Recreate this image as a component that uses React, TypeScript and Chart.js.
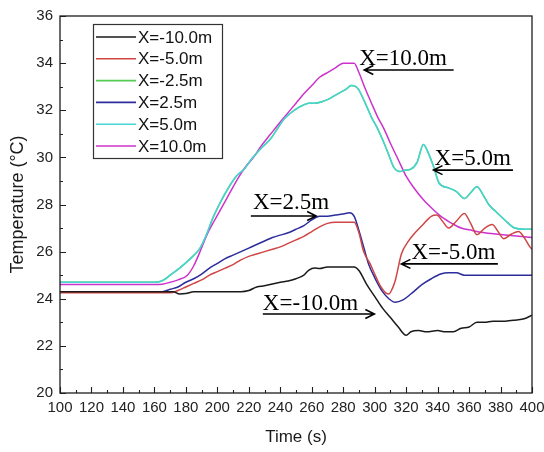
import React, { useEffect, useRef } from "react";
import { Chart, registerables } from "chart.js";

Chart.register(...registerables);

// ---- data (time in s, temperature in °C) ----
const xTicksMin = 100;
const xTicksMax = 400;
const xTickStep = 20;
const yTicksMin = 20;
const yTicksMax = 36;
const yTickStep = 2;

const seriesLabels = ["X=-10.0m", "X=-5.0m", "X=-2.5m", "X=2.5m", "X=5.0m", "X=10.0m"];
const seriesColors = ["#1a1a1a", "#d04545", "#55cc55", "#2c2c9c", "#46d4d4", "#cc33cc"];

const tBlack = [100,165,172,176,180,185,200,215,220,225,230,240,245,250,255,258,262,265,270,287,290,295,300,305,310,315,320,323,328,333,340,345,350,355,360,365,370,375,383,390,395,400];
const vBlack = [24.3,24.3,24.3,24.2,24.22,24.3,24.3,24.3,24.35,24.5,24.55,24.7,24.75,24.85,25.0,25.2,25.3,25.28,25.35,25.35,25.2,24.6,24.1,23.6,23.2,22.8,22.45,22.6,22.65,22.6,22.65,22.6,22.6,22.75,22.8,23.0,23.0,23.05,23.05,23.1,23.15,23.3];

const tRed = [100,170,175,180,185,190,195,200,205,210,215,220,225,230,235,240,245,250,255,260,265,270,275,287,290,293,297,300,304,307,309,311,313,317,321,325,330,336,339.5,343,347,352,357,361,365,370,374.7,378,382,387,391.5,395,398.7,400];
const vRed = [24.25,24.25,24.35,24.5,24.65,24.8,25.0,25.15,25.3,25.45,25.65,25.8,25.9,26.0,26.1,26.2,26.35,26.5,26.65,26.85,27.05,27.2,27.25,27.25,26.8,26.0,25.5,25.05,24.5,24.25,24.2,24.4,24.75,25.9,26.4,26.75,27.1,27.5,27.55,27.3,27.0,27.3,27.62,27.2,26.72,27.0,27.15,26.9,26.55,26.75,26.85,26.6,26.2,26.1];

// X=-2.5m trace runs underneath the X=5.0m trace in the reference
const tGreen = [100,160,163,166,170,176,182,189,193,197,202,207,212,217,222,228,234,238,242,246,250,254,258,262,266,270,274,278,282,285,288,290,294,298,302,306,309,312,316,319,323,327,331,334,337.5,341,347,352,357,361,365,369,372.5,377,381,385,389,395,400];
const vGreen = [24.7,24.7,24.72,24.8,25.0,25.3,25.65,26.15,26.7,27.4,28.1,28.7,29.2,29.5,29.95,30.4,30.8,31.2,31.6,31.85,32.05,32.2,32.3,32.3,32.35,32.45,32.6,32.75,32.9,33.05,33.0,32.85,32.3,31.7,31.2,30.6,30.1,29.6,29.4,29.45,29.5,29.8,30.55,30.2,29.6,28.9,28.7,28.55,28.25,28.5,28.75,28.4,28.0,27.7,27.45,27.2,27.0,26.95,26.95];

const tBlue = [100,165,170,175,180,185,190,195,200,205,210,215,220,225,230,235,240,245,250,255,260,265,270,275,280,284,287,290,293,296,300,305,309,313,318,323,330,336,342,347,352,357,370,400];
const vBlue = [24.3,24.3,24.4,24.5,24.7,24.85,25.05,25.3,25.5,25.7,25.85,26.0,26.15,26.3,26.45,26.6,26.7,26.8,26.95,27.1,27.35,27.5,27.5,27.55,27.6,27.65,27.5,26.9,26.2,25.5,24.9,24.3,24.0,23.85,23.95,24.2,24.6,24.85,25.05,25.1,25.1,25.0,25.0,25.0];

const tCyan = [100,160,163,166,170,176,182,189,193,197,202,207,212,217,222,228,234,238,242,246,250,254,258,262,266,270,274,278,282,285,288,290,294,298,302,306,309,312,316,319,323,327,331,334,337.5,341,347,352,357,361,365,369,372.5,377,381,385,389,395,400];
const vCyan = [24.7,24.7,24.72,24.8,25.0,25.3,25.65,26.15,26.7,27.4,28.1,28.7,29.2,29.5,29.95,30.4,30.8,31.2,31.6,31.85,32.05,32.2,32.3,32.3,32.35,32.45,32.6,32.75,32.9,33.05,33.0,32.85,32.3,31.7,31.2,30.6,30.1,29.6,29.4,29.45,29.5,29.8,30.55,30.2,29.6,28.9,28.7,28.55,28.25,28.5,28.75,28.4,28.0,27.7,27.45,27.2,27.0,26.95,26.95];

const tMagenta = [100,160,165,170,175,181,185,189,194,198,203,208,213,218,223,228,234,240,245,250,255,260,265,270,275,280,287,290,293.5,298,302,306,310,315,320,325,331,337,343,349,355,362,370,385,400];
const vMagenta = [24.6,24.6,24.62,24.7,24.8,25.0,25.4,26.0,26.8,27.3,27.9,28.5,29.1,29.6,30.0,30.5,31.0,31.5,31.9,32.3,32.7,33.05,33.4,33.6,33.8,34.0,34.0,33.6,33.0,32.3,31.7,31.2,30.6,29.9,29.2,28.7,28.2,27.8,27.45,27.2,27.0,26.9,26.8,26.7,26.6];

const seriesTimes = [tBlack, tRed, tGreen, tBlue, tCyan, tMagenta];
const seriesValues = [vBlack, vRed, vGreen, vBlue, vCyan, vMagenta];
const seriesOrder = [0, 0, 1, 0, 0, 0];

// annotation labels (text anchor in data units; arrow along underline)
const annoLabels = ["X=10.0m", "X=5.0m", "X=2.5m", "X=-5.0m", "X=-10.0m"];
const annoTextX = [290.2, 338.1, 222.6, 323.4, 228.9];
const annoTextY = [33.92, 29.68, 27.81, 25.69, 23.52];
const annoArrowY = [33.71, 29.46, 27.51, 25.48, 23.35];
const annoArrowFrom = [350.2, 387.9, 221.3, 378.3, 228.9];
const annoArrowTo = [293.4, 337.4, 262.8, 317.0, 299.8];

const xTitle = "Time (s)";
const yTitle = "Temperature (°C)";

const overlayPlugin = {
  id: "overlay",
  afterDraw(chart: any) {
    const { ctx, chartArea, scales } = chart;
    const { left, right, top, bottom } = chartArea;
    const xs = scales.x;
    const ys = scales.y;
    ctx.save();

    // frame
    ctx.strokeStyle = "#1e1e1e";
    ctx.lineWidth = 1.3;
    ctx.strokeRect(left, top, right - left, bottom - top);

    // inward ticks (major + minor)
    ctx.lineWidth = 1.1;
    ctx.beginPath();
    for (let v = xTicksMin; v <= xTicksMax; v += xTickStep / 2) {
      const px = Math.round(xs.getPixelForValue(v)) + 0.5;
      const len = (v - xTicksMin) % xTickStep === 0 ? 6 : 3;
      ctx.moveTo(px, bottom);
      ctx.lineTo(px, bottom - len);
    }
    for (let v = yTicksMin; v <= yTicksMax; v += yTickStep / 2) {
      const py = Math.round(ys.getPixelForValue(v)) + 0.5;
      const len = (v - yTicksMin) % yTickStep === 0 ? 6 : 3;
      ctx.moveTo(left, py);
      ctx.lineTo(left + len, py);
    }
    ctx.stroke();

    // legend box
    const lx = left + 33;
    const ly = top + 8;
    const lw = 129;
    const lh = 134;
    ctx.fillStyle = "#ffffff";
    ctx.fillRect(lx, ly, lw, lh);
    ctx.strokeStyle = "#333";
    ctx.lineWidth = 1.2;
    ctx.strokeRect(lx + 0.5, ly + 0.5, lw, lh);
    ctx.font = "17px 'Liberation Sans', Arial, sans-serif";
    ctx.textBaseline = "middle";
    ctx.textAlign = "left";
    seriesLabels.forEach((lab, i) => {
      const cy = ly + 13 + i * 21.8;
      ctx.strokeStyle = seriesColors[i];
      ctx.lineWidth = 1.6;
      ctx.beginPath();
      ctx.moveTo(lx + 3, cy);
      ctx.lineTo(lx + 43, cy);
      ctx.stroke();
      ctx.fillStyle = "#111";
      ctx.fillText(lab, lx + 45, cy + 1);
    });

    // annotations
    ctx.font = "23px 'Liberation Serif', 'Times New Roman', serif";
    ctx.textBaseline = "alphabetic";
    ctx.fillStyle = "#000";
    ctx.strokeStyle = "#000";
    annoLabels.forEach((lab, i) => {
      const tx = xs.getPixelForValue(annoTextX[i]);
      const ty = ys.getPixelForValue(annoTextY[i]);
      ctx.fillText(lab, tx, ty);
      const ay = ys.getPixelForValue(annoArrowY[i]);
      const ax0 = xs.getPixelForValue(annoArrowFrom[i]);
      const ax1 = xs.getPixelForValue(annoArrowTo[i]);
      const dir = ax1 > ax0 ? 1 : -1;
      ctx.lineWidth = 1.6;
      ctx.beginPath();
      ctx.moveTo(ax0, ay);
      ctx.lineTo(ax1, ay);
      ctx.moveTo(ax1 - dir * 9, ay - 4.5);
      ctx.lineTo(ax1, ay);
      ctx.lineTo(ax1 - dir * 9, ay + 4.5);
      ctx.stroke();
    });

    // axis titles
    ctx.fillStyle = "#1a1a1a";
    ctx.font = "17px 'Liberation Sans', Arial, sans-serif";
    ctx.textAlign = "center";
    ctx.textBaseline = "middle";
    ctx.fillText(xTitle, (left + right) / 2, bottom + 44);
    ctx.save();
    ctx.translate(left - 42, (top + bottom) / 2);
    ctx.rotate(-Math.PI / 2);
    ctx.font = "18px 'Liberation Sans', Arial, sans-serif";
    ctx.fillText(yTitle, 0, 0);
    ctx.restore();

    ctx.restore();
  },
};

export default function App() {
  const canvasRef = useRef<HTMLCanvasElement | null>(null);

  useEffect(() => {
    if (!canvasRef.current) return;
    const datasets = seriesLabels.map((lab, i) => ({
      label: lab,
      data: seriesTimes[i].map((t, j) => ({ x: t, y: seriesValues[i][j] })),
      borderColor: seriesColors[i],
      backgroundColor: seriesColors[i],
      borderWidth: 1.5,
      pointRadius: 0,
      fill: false,
      cubicInterpolationMode: "monotone" as const,
      order: seriesOrder[i],
    }));
    const tickFont = { family: "'Liberation Sans', Arial, sans-serif", size: 15 };
    const chart = new Chart(canvasRef.current, {
      type: "line",
      data: { datasets },
      plugins: [overlayPlugin],
      options: {
        responsive: false,
        animation: false,
        events: [],
        layout: { padding: { top: 16, right: 2, bottom: 0, left: 0 } },
        plugins: {
          legend: { display: false },
          tooltip: { enabled: false },
        },
        scales: {
          x: {
            type: "linear",
            min: xTicksMin,
            max: xTicksMax,
            grid: { display: false, drawTicks: false },
            border: { display: false },
            ticks: { stepSize: xTickStep, color: "#222", font: tickFont, padding: 6, maxRotation: 0, autoSkip: false },
            afterFit: (scale: any) => {
              scale.height = 59;
              scale.paddingRight = 12;
            },
          },
          y: {
            type: "linear",
            min: yTicksMin,
            max: yTicksMax,
            grid: { display: false, drawTicks: false },
            border: { display: false },
            ticks: { stepSize: yTickStep, color: "#222", font: tickFont, padding: 7 },
            afterFit: (scale: any) => {
              scale.width = 60;
            },
          },
        },
      },
    });
    return () => chart.destroy();
  }, []);

  return (
    <div style={{ position: "fixed", left: 0, top: 0, width: 544, height: 452, background: "#fff" }}>
      <canvas ref={canvasRef} width={544} height={452} />
    </div>
  );
}
